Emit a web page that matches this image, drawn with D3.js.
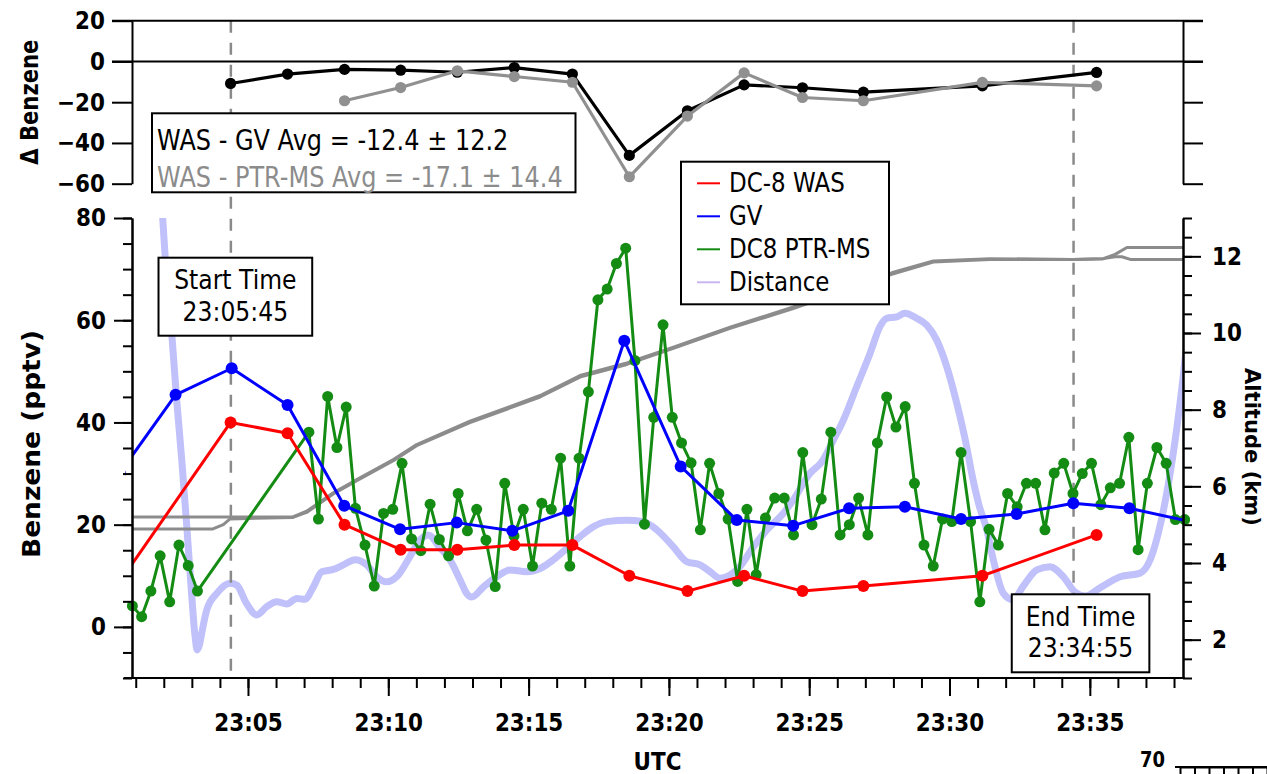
<!DOCTYPE html>
<html><head><meta charset="utf-8">
<script src="https://cdn.jsdelivr.net/npm/d3@7"></script>
<style>
html,body{margin:0;padding:0;background:#fff;}
svg{display:block;}
</style></head><body>
<svg id="chart" width="1267" height="774"></svg>
<script>
// ---------------- DATA (times = minutes after 23:00:00 UTC) ----------------
const xDomainMin = [0.867, 38.32];
const xTickFormat = "%H:%M";

// DC-8 WAS benzene (pptv)
const wasTimes   = [0.30, 4.38, 6.41, 8.44, 10.44, 12.46, 14.49, 16.56, 18.59, 20.66, 22.68, 24.76, 26.93, 31.17, 35.24];
const wasBenzene = [7.8, 40.0, 37.9, 20.0, 15.1, 15.1, 16.0, 16.0, 10.0, 7.0, 10.0, 7.0, 8.0, 10.0, 18.0];

// GV benzene (pptv)
const gvTimes   = [0.43, 2.42, 4.42, 6.41, 8.43, 10.42, 12.44, 14.42, 16.41, 18.41, 20.42, 22.42, 24.43, 26.42, 28.41, 30.41, 32.39, 34.41, 36.41, 39.0];
const gvBenzene = [30.1, 45.4, 50.6, 43.4, 23.7, 19.1, 20.4, 18.8, 22.7, 56.0, 31.4, 20.9, 19.8, 23.2, 23.5, 21.1, 22.1, 24.2, 23.2, 20.1];

// DC8 PTR-MS benzene (pptv)
const ptrTimes = [0.88, 1.21, 1.54, 1.87, 2.21, 2.54, 2.87, 3.20,
  7.17, 7.51, 7.84, 8.17, 8.50, 8.83, 9.17, 9.50, 9.83, 10.16,
  10.49, 10.83, 11.16, 11.49, 11.82, 12.15, 12.49, 12.82, 13.15, 13.48,
  13.81, 14.15, 14.48, 14.81, 15.14, 15.47, 15.81, 16.14, 16.47, 16.80,
  17.13, 17.47, 17.80, 18.13, 18.46, 18.79, 19.13, 19.46, 19.79, 20.12,
  20.45, 20.79, 21.12, 21.45, 21.78, 22.11, 22.45, 22.78, 23.11, 23.44,
  23.77, 24.11, 24.44, 24.77, 25.10, 25.43, 25.77, 26.10, 26.43, 26.76,
  27.09, 27.43, 27.76, 28.09, 28.42, 28.75, 29.09, 29.42, 29.75, 30.08,
  30.41, 30.75, 31.08, 31.41, 31.74, 32.07, 32.41, 32.74, 33.07, 33.40,
  33.73, 34.07, 34.40, 34.73, 35.06, 35.39, 35.73, 36.06, 36.39, 36.72,
  37.05, 37.39, 37.72, 38.05, 38.38];
const ptrBenzene = [4.1, 2.0, 7.0, 13.9, 4.9, 16.0, 12.0, 7.0,
  38.1, 21.1, 45.1, 35.1, 43.0, 23.2, 16.0, 8.0, 22.2, 23.0,
  32.0, 17.2, 14.9, 24.0, 17.1, 13.9, 26.1, 18.8, 23.0, 17.0,
  7.9, 28.1, 17.8, 23.0, 11.9, 24.2, 23.0, 33.0, 11.9, 33.0,
  46.0, 64.0, 66.1, 71.1, 74.1, 52.1, 20.1, 41.0, 59.1, 41.0,
  36.0, 32.1, 19.0, 32.0, 26.1, 21.1, 8.9, 23.0, 10.2, 21.3,
  25.2, 25.2, 18.0, 34.1, 20.0, 25.0, 38.1, 18.0, 20.0, 25.2,
  18.0, 36.0, 45.0, 39.1, 43.1, 28.1, 16.0, 11.9, 21.1, 20.6,
  34.1, 20.6, 4.9, 19.1, 16.0, 26.1, 23.5, 28.1, 28.1, 19.0,
  30.1, 32.0, 26.1, 30.0, 32.0, 23.9, 27.2, 28.1, 37.1, 15.1,
  28.1, 35.1, 32.0, 21.0, 21.0];

// Distance between aircraft (relative units, hidden axis 0-100)
const distTimes = [1.92, 2.04, 2.30, 2.46, 2.64, 2.82, 2.99, 3.11, 3.19, 3.27, 3.35, 3.53, 3.89, 4.36, 4.60,
  4.95, 5.31, 5.67, 6.02, 6.38, 6.74, 7.03, 7.33, 7.63, 8.04, 8.40, 8.81, 9.23, 9.59, 9.94,
  10.30, 10.77, 11.13, 11.43, 11.84, 12.20, 12.56, 12.79, 12.97, 13.39, 13.86, 14.34, 14.93, 15.41, 15.88,
  16.36, 16.83, 17.31, 17.78, 18.50, 19.09, 19.57, 20.16, 20.63, 21.11, 21.47, 21.82, 22.18, 22.53, 23.01,
  23.49, 24.08, 24.43, 25.03, 25.45, 25.86, 26.22, 26.69, 27.17, 27.52, 27.76, 28.12, 28.41, 28.83, 29.19,
  29.54, 29.90, 30.26, 30.61, 30.79, 31.05, 31.33, 31.56, 31.92, 32.26, 32.63, 33.11, 33.58, 34.06, 34.47,
  34.83, 35.36, 36.08, 36.79, 37.15, 37.44, 37.74, 38.04, 38.32, 38.43];
const distValues = [103.9, 92.4, 73.5, 60.4, 47.4, 32.9, 18.4, 9.3, 6.1, 7.2, 9.7, 14.8, 18.4, 20.6, 20.2,
  16.2, 13.7, 15.5, 16.6, 16.1, 17.3, 17.1, 19.8, 23.1, 23.6, 24.6, 25.7, 24.6, 22.0, 20.9,
  22.0, 26.4, 30.0, 31.1, 28.3, 25.7, 21.3, 18.4, 17.6, 19.8, 22.0, 23.5, 23.1, 23.8, 25.7,
  28.2, 30.7, 32.9, 34.0, 34.3, 34.0, 32.2, 28.5, 25.3, 24.6, 23.1, 21.7, 22.4, 24.2, 28.5,
  32.2, 35.8, 38.7, 44.5, 47.0, 51.7, 56.1, 63.3, 70.6, 76.4, 78.2, 78.5, 79.3, 78.2, 76.7,
  73.5, 67.7, 59.7, 50.3, 44.5, 37.6, 32.2, 25.7, 18.4, 17.0, 20.0, 23.5, 24.2, 22.0, 18.7,
  17.8, 19.6, 22.0, 22.8, 25.7, 31.5, 40.2, 51.7, 65.2, 71.3];

// Altitudes (km), two aircraft
const altTimesA = [0.80, 6.60, 7.09, 8.04, 8.99, 10.18, 11.01, 12.91, 15.41, 16.83, 18.50, 20.16, 22.18, 24.43, 26.45, 27.94, 29.42, 31.44, 34.41, 35.48, 35.90, 36.32, 38.40];
const altA      = [5.20, 5.20, 5.35, 5.83, 6.22, 6.70, 7.09, 7.70, 8.37, 8.89, 9.22, 9.63, 10.15, 10.68, 11.19, 11.57, 11.88, 11.94, 11.92, 11.94, 12.05, 12.23, 12.23];
const altTimesB = [0.80, 3.75, 4.12, 4.36, 6.60, 7.09, 8.04, 8.99, 10.18, 11.01, 12.91, 15.41, 16.83, 18.50, 20.16, 22.18, 24.43, 26.45, 27.94, 29.42, 31.44, 34.41, 35.48, 35.90, 36.14, 36.44, 38.40];
const altB      = [4.89, 4.89, 5.00, 5.15, 5.19, 5.32, 5.80, 6.19, 6.67, 7.06, 7.66, 8.33, 8.85, 9.18, 9.60, 10.12, 10.64, 11.15, 11.53, 11.85, 11.92, 11.92, 11.94, 11.99, 11.99, 11.92, 11.92];

// Top panel: differences (pptv)
const diffTimes  = [4.38, 6.41, 8.44, 10.44, 12.46, 14.49, 16.56, 18.59, 20.66, 22.68, 24.76, 26.93, 31.17, 35.24];
const wasMinusGV = [-10.8, -6.2, -3.9, -4.3, -5.3, -3.0, -6.2, -46.1, -24.2, -11.5, -12.9, -15.1, -12.0, -5.4];
const diffPtrTimes = [8.44, 10.44, 12.46, 14.49, 16.56, 18.59, 20.66, 22.68, 24.76, 26.93, 31.17, 35.24];
const wasMinusPTR  = [-19.3, -12.8, -4.6, -7.4, -10.2, -56.6, -26.8, -5.6, -17.7, -19.3, -10.3, -12.0];

const eventTimes  = [4.39, 34.42];
const eventLabels = [["Start Time", "23:05:45"], ["End Time", "23:34:55"]];
const statLines   = ["WAS - GV Avg = -12.4 \u00B1 12.2", "WAS - PTR-MS Avg = -17.1 \u00B1 14.4"];
const legendNames = ["DC-8 WAS", "GV", "DC8 PTR-MS", "Distance"];

const topTicks   = [-60, -40, -20, 0, 20];
const mainMajor  = [0, 20, 40, 60, 80];
const altMajor   = [2, 4, 6, 8, 10, 12];

// ---------------- STYLE ----------------
const FONT = "'DejaVu Sans', sans-serif";
const S = 1.15;  // vertical stretch of horizontal lettering
const C = { was: "#ff0000", gv: "#0000ff", ptr: "#148c14", dist: "#c0c0fb", alt: "#8c8c8c",
            dGV: "#000000", dPTR: "#909090", dash: "#8a8a8a" };

const svg = d3.select("#chart").attr("font-family", FONT);
const base = Date.UTC(2019, 7, 6, 23, 0, 0);
const t2d = m => new Date(base + m * 60000);

const x = d3.scaleUtc().domain(xDomainMin.map(t2d)).range([132, 1183]);
const yTop = d3.scaleLinear().domain([-60, 20]).range([183.7, 20.7]);
const yMain = d3.scaleLinear().domain([-10, 80]).range([678, 218]);
const yAlt = d3.scaleLinear().domain([1, 13]).range([678, 218]);
const yDist = d3.scaleLinear().domain([0, 100]).range([678, 218]);

const [X0, X1] = x.range();
const defs = svg.append("defs");
defs.append("clipPath").attr("id", "clipMain").append("rect")
  .attr("x", X0).attr("y", yMain.range()[1]).attr("width", X1 - X0).attr("height", yMain.range()[0] - yMain.range()[1]);
defs.append("clipPath").attr("id", "clipMarks").append("rect")
  .attr("x", X0 - 7).attr("y", yMain.range()[1] - 7).attr("width", X1 - X0 + 14).attr("height", yMain.range()[0] - yMain.range()[1] + 14);

function txt(g, str, px, py, o) {
  const t = g.append("text")
    .attr("transform", `translate(${px},${py})` + (o.rotate ? ` rotate(${o.rotate})` : ` scale(1,${S})`))
    .attr("text-anchor", o.anchor || "start")
    .attr("font-size", o.size).attr("font-weight", o.weight || "normal")
    .attr("fill", o.fill || "#000").text(str);
  if (o.len) t.attr("textLength", o.len).attr("lengthAdjust", "spacingAndGlyphs");
  return t;
}

function series(g, ts, vs, yS, color, width, r, clipLine) {
  const pts = ts.map((t, i) => [x(t2d(t)), yS(vs[i])]);
  g.append("path").attr("d", d3.line()(pts)).attr("fill", "none")
    .attr("stroke", color).attr("stroke-width", width).attr("stroke-linejoin", "round")
    .attr("clip-path", clipLine ? "url(#clipMain)" : null);
  if (r) {
    const mg = g.append("g").attr("clip-path", clipLine ? "url(#clipMarks)" : null);
    mg.selectAll("circle").data(pts).join("circle")
      .attr("cx", d => d[0]).attr("cy", d => d[1]).attr("r", r).attr("fill", color);
  }
}

// ---------------- MAIN PANEL ----------------
const gMain = svg.append("g");

// distance
gMain.append("path")
  .attr("d", d3.line().curve(d3.curveMonotoneX)(distTimes.map((t, i) => [x(t2d(t)), yDist(distValues[i])])))
  .attr("fill", "none").attr("stroke", C.dist).attr("stroke-width", 7)
  .attr("stroke-linejoin", "round").attr("clip-path", "url(#clipMain)");

// event dashed lines (through both panels)
gMain.selectAll("line.evt").data(eventTimes).join("line").attr("class", "evt")
  .attr("x1", d => x(t2d(d))).attr("x2", d => x(t2d(d)))
  .attr("y1", yTop(20)).attr("y2", yMain(-10))
  .attr("stroke", C.dash).attr("stroke-width", 2.5).attr("stroke-dasharray", "12,10");

// altitude
series(gMain, altTimesB, altB, yAlt, C.alt, 3, 0, true);
series(gMain, altTimesA, altA, yAlt, C.alt, 3, 0, true);

// benzene
series(gMain, ptrTimes, ptrBenzene, yMain, C.ptr, 3, 5.5, true);
series(gMain, wasTimes, wasBenzene, yMain, C.was, 3, 6, true);
series(gMain, gvTimes, gvBenzene, yMain, C.gv, 3, 6, true);

// ---------------- TOP PANEL ----------------
const gTop = svg.append("g");
[20, 0].forEach(v => gTop.append("line")
  .attr("x1", X0 - 20).attr("x2", X1 + 20).attr("y1", yTop(v)).attr("y2", yTop(v))
  .attr("stroke", "#000").attr("stroke-width", 2));
series(gTop, diffTimes, wasMinusGV, yTop, C.dGV, 3.2, 5.6, false);
series(gTop, diffPtrTimes, wasMinusPTR, yTop, C.dPTR, 3.2, 5.6, false);

// ---------------- AXES ----------------
function styleAx(g, size) {
  g.attr("font-family", FONT).attr("font-size", size).attr("font-weight", "bold");
  g.selectAll("path.domain, .tick line").attr("stroke", "#000").attr("stroke-width", 2);
  g.selectAll(".tick text").attr("fill", "#000");
  return g;
}
const TS = 21.5;

// top-left
styleAx(svg.append("g").attr("transform", `translate(${X0},0)`)
  .call(d3.axisLeft(yTop).tickValues(topTicks).tickSize(20).tickPadding(7).tickSizeOuter(0)), TS)
  .selectAll(".tick text").attr("transform", `scale(1,${S})`);
// top-right
styleAx(svg.append("g").attr("transform", `translate(${X1},0)`)
  .call(d3.axisRight(yTop).tickValues(topTicks).tickSize(20).tickFormat("").tickSizeOuter(0)), TS);

// main left minor + major
styleAx(svg.append("g").attr("transform", `translate(${X0},0)`)
  .call(d3.axisLeft(yMain).tickValues(d3.range(-10, 80.01, 5)).tickSize(9).tickFormat("").tickSizeOuter(0)), TS);
styleAx(svg.append("g").attr("transform", `translate(${X0},0)`)
  .call(d3.axisLeft(yMain).tickValues(mainMajor).tickSize(18).tickPadding(8).tickSizeOuter(0)), TS)
  .selectAll(".tick text").attr("transform", `scale(1,${S})`);

// main right (altitude)
styleAx(svg.append("g").attr("transform", `translate(${X1},0)`)
  .call(d3.axisRight(yAlt).tickValues(d3.range(1, 13.01, 0.5)).tickSize(9).tickFormat("").tickSizeOuter(0)), TS);
styleAx(svg.append("g").attr("transform", `translate(${X1},0)`)
  .call(d3.axisRight(yAlt).tickValues(altMajor).tickSize(18).tickPadding(11).tickSizeOuter(0)), TS)
  .selectAll(".tick text").attr("transform", `scale(1,${S})`);

// x axis
const yX = yMain.range()[0];
const gxm = styleAx(svg.append("g").attr("transform", `translate(0,${yX})`)
  .call(d3.axisBottom(x).ticks(d3.utcMinute.every(1)).tickSize(10).tickFormat("")), TS);
gxm.select(".domain").remove();
const gx = styleAx(svg.append("g").attr("transform", `translate(0,${yX})`)
  .call(d3.axisBottom(x).ticks(d3.utcMinute.every(5)).tickSize(18).tickFormat(d3.utcFormat(xTickFormat))), TS);
gx.select(".domain").remove();
gx.selectAll(".tick text").attr("y", 53 / S).attr("dy", 0).attr("transform", `scale(1,${S})`);
svg.append("line").attr("x1", X0 - 8).attr("x2", X1 + 2).attr("y1", yX).attr("y2", yX)
  .attr("stroke", "#000").attr("stroke-width", 2);

// axis titles
txt(svg, "\u0394 Benzene", 38, (yTop(20) + yTop(-60)) / 2, { size: 24, weight: "bold", anchor: "middle", rotate: -90, len: 125 });
txt(svg, "Benzene (pptv)", 40, 444, { size: 24, weight: "bold", anchor: "middle", rotate: -90, len: 228 });
txt(svg, "Altitude (km)", 1245, 447, { size: 21.5, weight: "bold", anchor: "middle", rotate: 90, len: 158 });
txt(svg, "UTC", (X0 + X1) / 2, 770, { size: 21.5, weight: "bold", anchor: "middle" });

// fragment of next panel axis at bottom right
const xNext = d3.scaleLinear().domain([0, 6]).range([1180, 1267]);
styleAx(svg.append("g").attr("transform", "translate(0,767)")
  .call(d3.axisBottom(xNext).ticks(6).tickSize(9).tickFormat("").tickSizeOuter(0)), TS);
svg.append("line").attr("x1", 1175).attr("x2", 1267).attr("y1", 767).attr("y2", 767).attr("stroke", "#000").attr("stroke-width", 2);
txt(svg, "70", 1165, 767, { size: 18, weight: "bold", anchor: "end" });

// ---------------- ANNOTATION BOXES ----------------
function box(g, bx, by, bw, bh) {
  g.append("rect").attr("x", bx).attr("y", by).attr("width", bw).attr("height", bh)
    .attr("fill", "#fff").attr("stroke", "#000").attr("stroke-width", 2);
}
// stats
box(svg, 152, 113.3, 423.5, 79);
txt(svg, statLines[0], 157, 150, { size: 24, fill: "#000" });
txt(svg, statLines[1], 157, 187, { size: 24, fill: "#8c8c8c" });

// start / end time boxes
const ev = [{ cx: x(t2d(eventTimes[0])) + 4.5, by: 257.7 }, { cx: x(t2d(eventTimes[1])) + 7, by: 594.3 }];
ev.forEach((e, i) => {
  const bw = i === 0 ? 153.7 : 137.6;
  box(svg, e.cx - bw / 2, e.by, bw, 78);
  txt(svg, eventLabels[i][0], e.cx, e.by + 31.5, { size: 23.5, anchor: "middle" });
  txt(svg, eventLabels[i][1], e.cx, e.by + 63, { size: 23.5, anchor: "middle" });
});

// legend
const lg = svg.append("g");
box(lg, 681, 161.7, 208, 142.6);
const lgColors = [C.was, C.gv, C.ptr, "#c8b6f2"];
legendNames.forEach((n, i) => {
  const cy = 183.3 + i * 33;
  lg.append("line").attr("x1", 697).attr("x2", 720).attr("y1", cy).attr("y2", cy)
    .attr("stroke", lgColors[i]).attr("stroke-width", 2);
  txt(lg, n, 729, cy + 8.5, { size: 23 });
});
</script>
</body></html>
